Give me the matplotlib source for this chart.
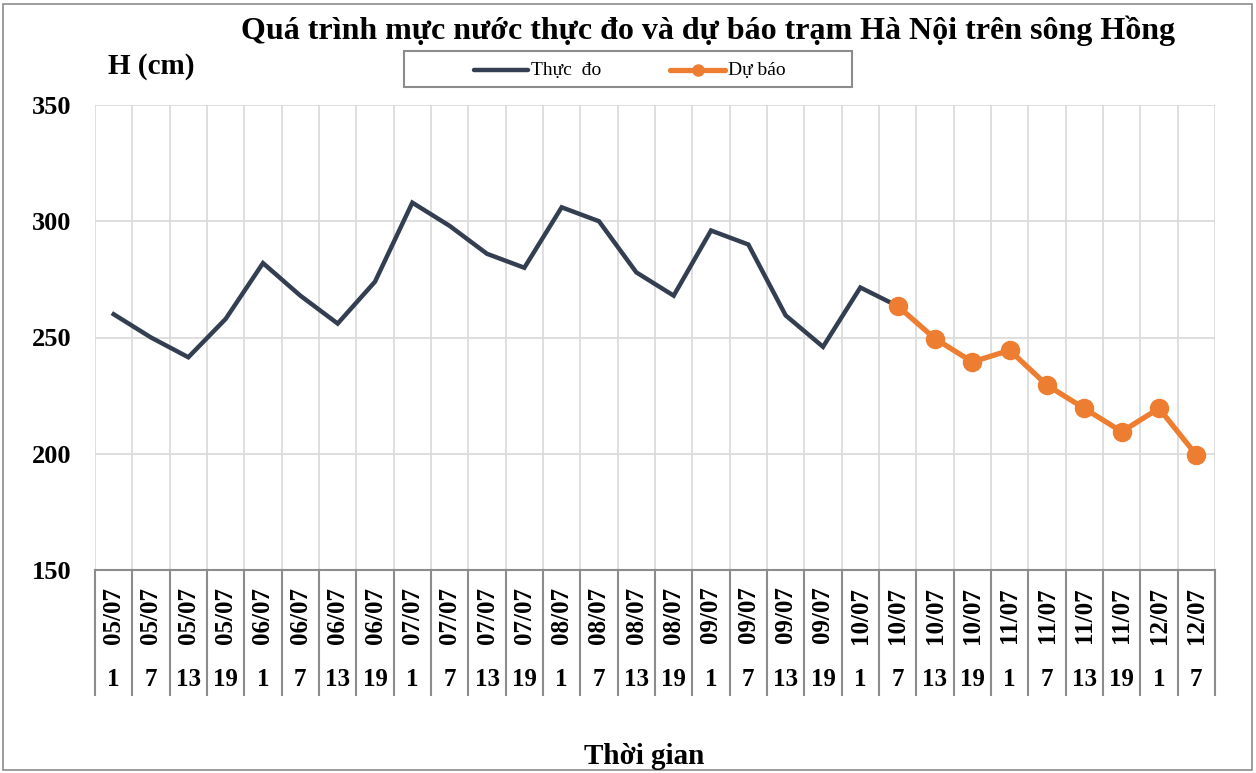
import matplotlib
matplotlib.use("Agg")
from matplotlib import pyplot as plt
import matplotlib.patches as patches
import matplotlib.transforms as mtransforms
from matplotlib.lines import Line2D

plt.rcParams['font.family'] = ['Liberation Serif', 'DejaVu Serif']

# category labels (date / hour)
dates = ["05/07"] * 4 + ["06/07"] * 4 + ["07/07"] * 4 + ["08/07"] * 4 + \
        ["09/07"] * 4 + ["10/07"] * 4 + ["11/07"] * 4 + ["12/07"] * 2
hours = ["1", "7", "13", "19"] * 7 + ["1", "7"]

# observed water level (05/07 1h -> 10/07 7h)
observed = [260, 250, 241.5, 258, 282, 268, 256, 274, 308, 298, 286, 280,
            306, 300, 278, 268, 296, 290, 259.5, 246, 271.5, 263.5]
# forecast (10/07 7h -> 12/07 7h)
forecast = [263.5, 249.5, 239.5, 244.5, 229.5, 219.5, 209.5, 219.5, 199.5]

n = len(dates)
x_obs = list(range(len(observed)))
x_fc = list(range(len(observed) - 1, len(observed) - 1 + len(forecast)))

W, H = 1256, 773
fig = plt.figure(figsize=(W / 100, H / 100), dpi=100)
ax = fig.add_axes([95 / W, 1 - 570 / H, (1215 - 95) / W, (570 - 105) / H])

# chart border
fig.patches.append(patches.Rectangle((3 / W, 3 / H), 1 - 7 / W, 1 - 7 / H,
                                     transform=fig.transFigure, fill=False,
                                     edgecolor='#8c8c8c', linewidth=1.2))

# grid
for yv in [200, 250, 300, 350]:
    ax.axhline(yv, color='#d9d9d9', lw=1.2, zorder=0)
for i in range(n + 1):
    ax.axvline(i - 0.5, color='#d9d9d9', lw=1.2, zorder=0)

col_obs = '#333f50'
col_fc = '#ed7d31'
ax.plot(x_obs, observed, color=col_obs, lw=3.2, zorder=3, solid_joinstyle='miter')
ax.plot(x_fc, forecast, color=col_fc, lw=3.8, marker='o', markersize=13, zorder=4)

ax.set_xlim(-0.5, n - 0.5)
ax.set_ylim(150, 350)
ax.set_yticks([150, 200, 250, 300, 350])
ax.set_xticks([])
ax.tick_params(axis='y', length=0, pad=17, labelsize=19)
for lbl in ax.get_yticklabels():
    lbl.set_fontweight('bold')
for s in ['top', 'right', 'left']:
    ax.spines[s].set_visible(False)
ax.spines['bottom'].set_color('#8c8c8c')
ax.spines['bottom'].set_linewidth(1.5)

# category table below the axis
trans = mtransforms.blended_transform_factory(ax.transData, ax.transAxes)
tbl_bottom = -(695 - 570) / (570 - 105)
for i in range(n + 1):
    ax.add_line(Line2D([i - 0.5, i - 0.5], [0, tbl_bottom], transform=trans,
                       color='#8c8c8c', lw=1.5, clip_on=False))
for i in range(n):
    ax.text(i, -(615 - 570) / 465, dates[i], transform=trans, rotation=90,
            ha='center', va='center', fontsize=18, fontweight='bold')
    ax.text(i, -(680 - 570) / 465, hours[i], transform=trans, ha='center',
            va='center', fontsize=18, fontweight='bold')

fig.text(708 / W, 1 - 31 / H, "Quá trình mực nước thực đo và dự báo trạm Hà Nội trên sông Hồng",
         ha='center', va='center', fontsize=23, fontweight='bold')
fig.text(151 / W, 1 - 67 / H, "H (cm)", ha='center', va='center',
         fontsize=21, fontweight='bold')
fig.text(644 / W, 1 - 756 / H, "Thời gian", ha='center', va='center',
         fontsize=21, fontweight='bold')

# legend box (drawn by hand to match the layout)
fig.patches.append(patches.Rectangle((404 / W, 1 - 87 / H), 448 / W, 36 / H,
                                     transform=fig.transFigure, fill=False,
                                     edgecolor='#8c8c8c', linewidth=1.5))
ly = 1 - 70 / H
fig.add_artist(Line2D([474 / W, 528 / W], [ly, ly], color=col_obs, lw=3.2,
                      solid_capstyle='round', transform=fig.transFigure))
fig.text(531 / W, ly, "Thực  đo", ha='left', va='center', fontsize=14)
fig.add_artist(Line2D([670 / W, 725 / W], [ly, ly], color=col_fc, lw=3.8,
                      solid_capstyle='round', transform=fig.transFigure))
fig.add_artist(Line2D([697.5 / W], [ly], color=col_fc, marker='o',
                      markersize=8, transform=fig.transFigure))
fig.text(728 / W, ly, "Dự báo", ha='left', va='center', fontsize=14)

fig.savefig("out.png", dpi=100)
